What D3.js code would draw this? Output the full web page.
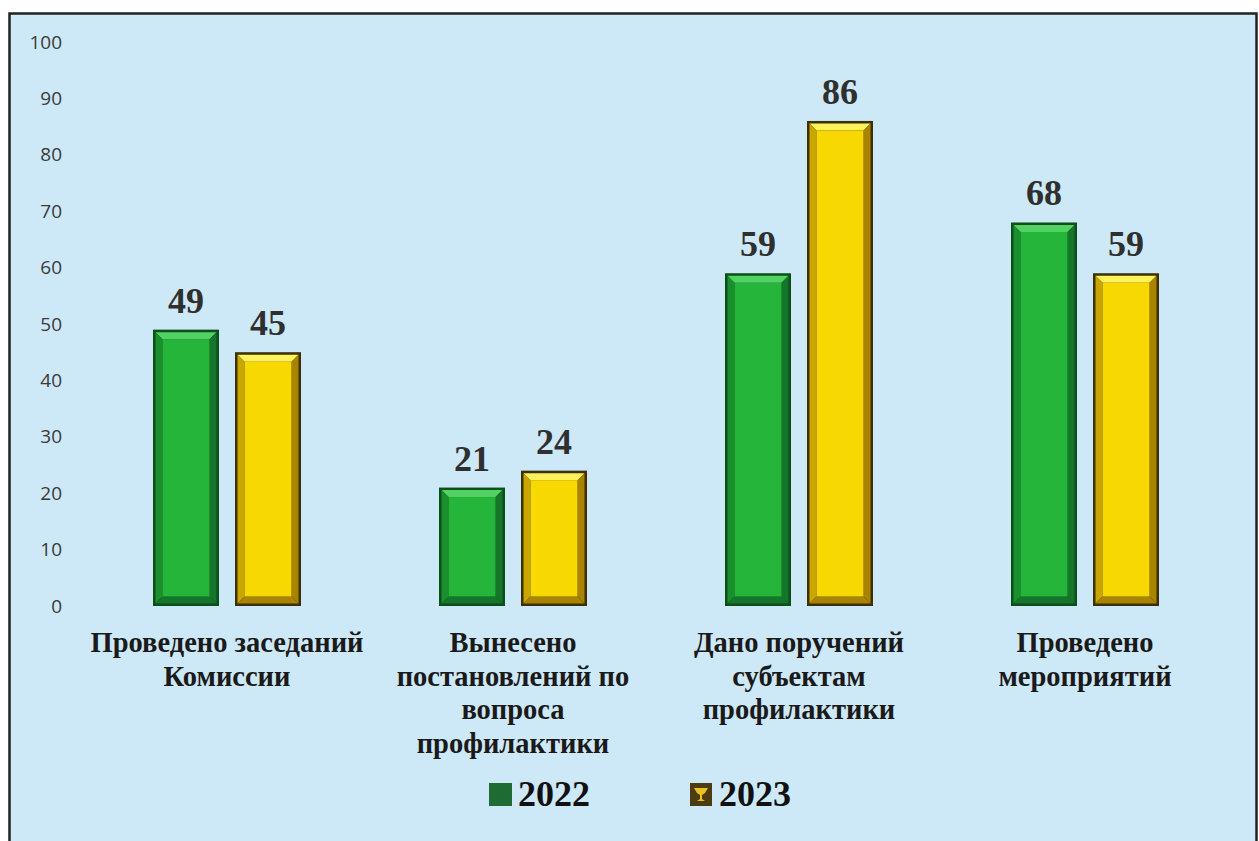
<!DOCTYPE html>
<html>
<head>
<meta charset="utf-8">
<script src="https://cdn.jsdelivr.net/npm/d3@7"></script>
<style>
  body { margin: 0; background: #fff; }
  svg { display: block; }
</style>
</head>
<body>
<svg width="1259" height="841"></svg>
<script>
// data
var categories = [
  ["Проведено заседаний", "Комиссии"],
  ["Вынесено", "постановлений по", "вопроса", "профилактики"],
  ["Дано поручений", "субъектам", "профилактики"],
  ["Проведено", "мероприятий"]
];
var series = ["2022", "2023"];
var values2022 = [49, 21, 59, 68];
var values2023 = [45, 24, 86, 59];
var yTicks = [0, 10, 20, 30, 40, 50, 60, 70, 80, 90, 100];

var svg = d3.select("svg"),
    width = +svg.attr("width"),
    height = +svg.attr("height");

var serif = "'Liberation Serif', 'Times New Roman', serif";

// frame
svg.append("rect")
  .attr("x", 9.5).attr("y", 13.5)
  .attr("width", 1247).attr("height", 850)
  .attr("fill", "#cde8f6")
  .attr("stroke", "#222").attr("stroke-width", 2.5);

var catIdx = d3.range(categories.length);

var y = d3.scaleLinear().domain([0, 100]).range([606, 42]);
var x0 = d3.scaleBand().domain(catIdx).range([84, 1228])
  .paddingInner(0.4825).paddingOuter(0.24125);
var x1 = d3.scaleBand().domain(series).range([0, x0.bandwidth()]).paddingInner(0.195);

var colors = {
  "2022": { main: "#25b53a", light: "#52d262", dark: "#0c4f18", edge: "#15752a", low: "#1b8f2e" },
  "2023": { main: "#f7d800", light: "#fff25a", dark: "#3e3006", edge: "#a98400", low: "#caa600" }
};

// y axis
var yAxis = d3.axisLeft(y).tickValues(yTicks).tickSize(0).tickPadding(0);
var gy = svg.append("g").attr("transform", "translate(62,0)").call(yAxis);
gy.select(".domain").remove();
gy.selectAll("text")
  .attr("fill", "#3a3a3a")
  .style("font-family", "'Open Sans', 'Liberation Sans', sans-serif")
  .style("font-size", "19px");

// bars
var rows = [];
catIdx.forEach(function(i) {
  rows.push({ c: i, s: "2022", v: values2022[i] });
  rows.push({ c: i, s: "2023", v: values2023[i] });
});

var bars = svg.append("g").selectAll("g.bar").data(rows).enter()
  .append("g").attr("class", "bar")
  .attr("transform", function(d) { return "translate(" + (x0(d.c) + x1(d.s)) + "," + y(d.v) + ")"; });

var bw = x1.bandwidth();
var bev = 7, o = 2.5;

bars.each(function(d) {
  var g = d3.select(this);
  var h = y(0) - y(d.v);
  var c = colors[d.s];
  // outer dark border
  g.append("rect").attr("x", 0).attr("y", 0).attr("width", bw).attr("height", h)
    .attr("fill", c.dark);
  // top bevel (light)
  g.append("path")
    .attr("d", "M" + o + "," + o + " L" + (bw - o) + "," + o + " L" + (bw - o - bev) + "," + (o + bev) + " L" + (o + bev) + "," + (o + bev) + "Z")
    .attr("fill", c.light);
  // left bevel
  g.append("path")
    .attr("d", "M" + o + "," + o + " L" + (o + bev) + "," + (o + bev) + " L" + (o + bev) + "," + (h - o - bev) + " L" + o + "," + (h - o) + "Z")
    .attr("fill", c.low);
  // right bevel (dark)
  g.append("path")
    .attr("d", "M" + (bw - o) + "," + o + " L" + (bw - o) + "," + (h - o) + " L" + (bw - o - bev) + "," + (h - o - bev) + " L" + (bw - o - bev) + "," + (o + bev) + "Z")
    .attr("fill", c.edge);
  // bottom bevel
  g.append("path")
    .attr("d", "M" + o + "," + (h - o) + " L" + (bw - o) + "," + (h - o) + " L" + (bw - o - bev) + "," + (h - o - bev) + " L" + (o + bev) + "," + (h - o - bev) + "Z")
    .attr("fill", c.edge);
  // face
  g.append("rect").attr("x", o + bev).attr("y", o + bev)
    .attr("width", bw - 2 * o - 2 * bev).attr("height", Math.max(0, h - 2 * o - 2 * bev))
    .attr("fill", c.main);
});

// value labels
svg.append("g").selectAll("text").data(rows).enter().append("text")
  .attr("x", function(d) { return x0(d.c) + x1(d.s) + bw / 2; })
  .attr("y", function(d) { return y(d.v) - 17; })
  .attr("text-anchor", "middle")
  .attr("fill", "#2f2f2f")
  .style("font-family", serif)
  .style("font-weight", "bold")
  .style("font-size", "36px")
  .text(function(d) { return d.v; });

// category labels
var cat = svg.append("g").selectAll("text").data(catIdx).enter().append("text")
  .attr("x", function(i) { return x0(i) + x0.bandwidth() / 2; })
  .attr("y", 652)
  .attr("text-anchor", "middle")
  .attr("fill", "#1a1a1a")
  .style("font-family", serif)
  .style("font-weight", "bold")
  .style("font-size", "28.5px");
cat.each(function(i) {
  var t = d3.select(this);
  categories[i].forEach(function(line, k) {
    t.append("tspan")
      .attr("x", x0(i) + x0.bandwidth() / 2)
      .attr("dy", k === 0 ? 0 : 33.5)
      .text(line);
  });
});

// legend
var legend = svg.append("g");
var legendX = [489, 690];
series.forEach(function(s, i) {
  var lg = legend.append("g").attr("transform", "translate(" + legendX[i] + ",783)");
  if (s === "2022") {
    lg.append("rect").attr("width", 23).attr("height", 23).attr("fill", "#1f6b34");
  } else {
    lg.append("rect").attr("width", 22).attr("height", 23).attr("fill", "#4d3b12");
    lg.append("path")
      .attr("d", "M4,5 L18,5 L15,10 L12,12 L12,16 L15,18 L7,18 L10,16 L10,12 L7,10 Z")
      .attr("fill", "#e8c21a");
  }
  lg.append("text")
    .attr("x", 29).attr("y", 23)
    .attr("fill", "#111")
    .style("font-family", serif)
    .style("font-weight", "bold")
    .style("font-size", "36px")
    .text(s);
});
</script>
</body>
</html>
